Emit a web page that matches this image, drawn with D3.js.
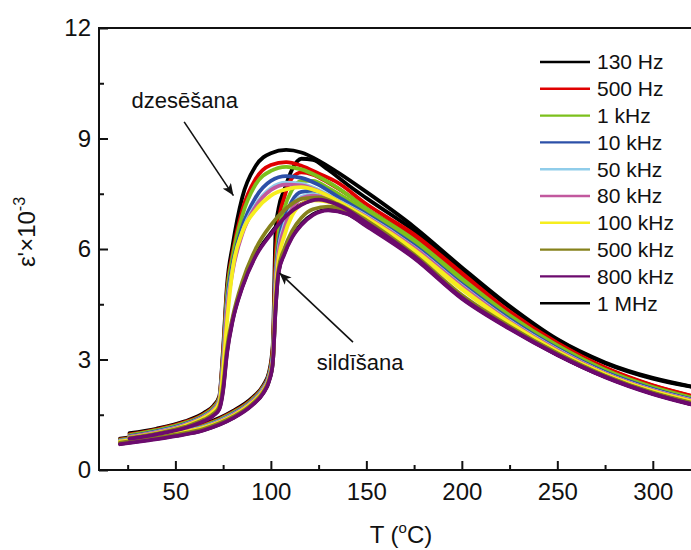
<!DOCTYPE html>
<html>
<head>
<meta charset="utf-8">
<script src="https://cdn.jsdelivr.net/npm/d3@7"></script>
<style>
  html, body { margin: 0; padding: 0; background: #ffffff; }
  svg { display: block; font-family: "Liberation Sans", Arial, sans-serif; }
</style>
</head>
<body>
<svg id="chart" width="691" height="550"></svg>
<script>
// Frequencies measured, in legend order
const freqLabels = ["130 Hz", "500 Hz", "1 kHz", "10 kHz", "50 kHz", "80 kHz", "100 kHz", "500 kHz", "800 kHz", "1 MHz"];
const freqColors = ["#000000", "#e00000", "#7cc01c", "#2c50a8", "#90cdea", "#c2589e", "#f6ee1e", "#86821c", "#6c0a6e", "#000000"];

// Temperature grids (°C) for the cooling and heating runs
const tCool = [26, 40, 55, 65, 70, 73, 75, 77, 80, 85, 92, 100, 108, 116, 125, 135, 150, 175, 200, 225, 250, 275, 300, 320];
const tHeat = [21, 35, 50, 65, 80, 90, 96, 99, 101, 102.5, 104, 107, 111, 116, 122, 130, 140, 150, 175, 200, 225, 250, 275, 300, 320];

// ε' ×10^-3 on cooling (dzesēšana)
const cool130Hz = [1.00, 1.12, 1.32, 1.55, 1.75, 2.00, 3.30, 5.00, 6.10, 7.40, 8.25, 8.60, 8.69, 8.62, 8.40, 8.08, 7.55, 6.60, 5.50, 4.45, 3.55, 2.92, 2.50, 2.27];
const cool500Hz = [0.97, 1.10, 1.30, 1.52, 1.72, 1.96, 3.20, 4.85, 5.90, 7.05, 7.90, 8.28, 8.36, 8.26, 8.05, 7.80, 7.22, 6.40, 5.35, 4.30, 3.45, 2.78, 2.30, 2.02];
const cool1kHz = [0.95, 1.08, 1.28, 1.50, 1.70, 1.94, 3.10, 4.75, 5.80, 6.90, 7.75, 8.12, 8.23, 8.16, 7.96, 7.66, 7.10, 6.25, 5.20, 4.20, 3.38, 2.72, 2.25, 1.97];
const cool10kHz = [0.92, 1.05, 1.25, 1.47, 1.66, 1.90, 3.00, 4.55, 5.60, 6.60, 7.40, 7.85, 7.98, 7.93, 7.74, 7.42, 6.95, 6.10, 5.05, 4.10, 3.30, 2.66, 2.20, 1.92];
const cool50kHz = [0.90, 1.03, 1.23, 1.45, 1.64, 1.88, 2.90, 4.40, 5.45, 6.45, 7.20, 7.65, 7.80, 7.77, 7.60, 7.32, 6.90, 6.05, 5.00, 4.05, 3.27, 2.63, 2.17, 1.90];
const cool80kHz = [0.90, 1.02, 1.22, 1.44, 1.63, 1.86, 2.85, 4.30, 5.40, 6.40, 7.15, 7.60, 7.75, 7.73, 7.57, 7.30, 6.88, 6.03, 4.98, 4.03, 3.25, 2.62, 2.16, 1.89];
const cool100kHz = [0.88, 1.00, 1.20, 1.42, 1.60, 1.82, 2.70, 4.00, 5.45, 6.45, 7.05, 7.45, 7.62, 7.68, 7.56, 7.30, 6.85, 5.98, 4.93, 4.00, 3.22, 2.60, 2.14, 1.87];
const cool500kHz = [0.87, 0.99, 1.17, 1.37, 1.53, 1.72, 2.30, 3.30, 4.15, 5.10, 6.00, 6.65, 7.10, 7.36, 7.40, 7.22, 6.78, 5.85, 4.75, 3.90, 3.17, 2.56, 2.10, 1.83];
const cool800kHz = [0.85, 0.97, 1.14, 1.33, 1.48, 1.65, 2.15, 3.15, 4.05, 4.95, 5.80, 6.40, 6.90, 7.20, 7.34, 7.20, 6.72, 5.80, 4.68, 3.85, 3.13, 2.53, 2.07, 1.79];
const cool1MHz = [0.86, 0.98, 1.15, 1.34, 1.49, 1.67, 2.20, 3.20, 4.08, 4.98, 5.83, 6.43, 6.92, 7.22, 7.35, 7.21, 6.74, 5.82, 4.70, 3.87, 3.14, 2.54, 2.08, 1.80];

// ε' ×10^-3 on heating (sildīšana)
const heat130Hz = [0.85, 0.95, 1.07, 1.25, 1.60, 1.95, 2.30, 2.65, 3.40, 6.50, 7.10, 7.60, 8.15, 8.45, 8.42, 8.15, 7.75, 7.38, 6.50, 5.44, 4.42, 3.53, 2.90, 2.48, 2.26];
const heat500Hz = [0.83, 0.93, 1.05, 1.22, 1.57, 1.92, 2.27, 2.60, 3.30, 5.80, 6.70, 7.40, 7.92, 8.08, 8.02, 7.80, 7.48, 7.10, 6.32, 5.30, 4.27, 3.43, 2.77, 2.29, 2.01];
const heat1kHz = [0.82, 0.92, 1.04, 1.20, 1.55, 1.90, 2.25, 2.58, 3.20, 5.40, 6.40, 7.10, 7.60, 7.85, 7.85, 7.66, 7.35, 7.00, 6.18, 5.16, 4.17, 3.36, 2.71, 2.24, 1.96];
const heat10kHz = [0.80, 0.90, 1.02, 1.18, 1.52, 1.87, 2.22, 2.55, 3.10, 5.20, 6.10, 6.80, 7.30, 7.55, 7.58, 7.45, 7.20, 6.88, 6.05, 5.02, 4.08, 3.29, 2.65, 2.19, 1.91];
const heat50kHz = [0.79, 0.89, 1.01, 1.17, 1.50, 1.85, 2.20, 2.52, 3.05, 5.10, 5.95, 6.65, 7.15, 7.42, 7.48, 7.38, 7.15, 6.83, 6.00, 4.97, 4.03, 3.26, 2.62, 2.16, 1.89];
const heat80kHz = [0.78, 0.88, 1.00, 1.16, 1.49, 1.84, 2.18, 2.50, 3.00, 5.00, 5.85, 6.55, 7.08, 7.38, 7.45, 7.36, 7.13, 6.81, 5.98, 4.95, 4.01, 3.24, 2.61, 2.15, 1.88];
const heat100kHz = [0.77, 0.87, 0.99, 1.15, 1.47, 1.82, 2.15, 2.47, 2.95, 4.80, 5.70, 6.35, 6.90, 7.22, 7.32, 7.28, 7.08, 6.78, 5.95, 4.90, 3.98, 3.21, 2.59, 2.13, 1.86];
const heat500kHz = [0.74, 0.84, 0.96, 1.12, 1.44, 1.78, 2.12, 2.44, 2.92, 4.55, 5.45, 6.00, 6.48, 6.85, 7.08, 7.15, 7.02, 6.70, 5.82, 4.72, 3.88, 3.16, 2.55, 2.09, 1.82];
const heat800kHz = [0.70, 0.80, 0.92, 1.08, 1.40, 1.75, 2.08, 2.40, 2.90, 4.40, 5.35, 5.85, 6.30, 6.65, 6.92, 7.05, 6.95, 6.62, 5.75, 4.65, 3.83, 3.12, 2.52, 2.06, 1.78];
const heat1MHz = [0.71, 0.81, 0.93, 1.09, 1.41, 1.76, 2.09, 2.41, 2.91, 4.42, 5.38, 5.88, 6.33, 6.68, 6.94, 7.06, 6.96, 6.64, 5.77, 4.67, 3.85, 3.13, 2.53, 2.07, 1.79];

const coolingRuns = [cool130Hz, cool500Hz, cool1kHz, cool10kHz, cool50kHz, cool80kHz, cool100kHz, cool500kHz, cool800kHz, cool1MHz];
const heatingRuns = [heat130Hz, heat500Hz, heat1kHz, heat10kHz, heat50kHz, heat80kHz, heat100kHz, heat500kHz, heat800kHz, heat1MHz];

// Axis ticks
const xMajorTicks = [50, 100, 150, 200, 250, 300];
const xMinorTicks = [25, 75, 125, 175, 225, 275];
const yMajorTicks = [0, 3, 6, 9, 12];
const yMinorTicks = [1.5, 4.5, 7.5, 10.5];

// Annotations: label, label anchor (T, ε'), arrow tail and head (T, ε')
const annotations = [
  { text: "dzesēšana", at: [27, 9.84], from: [54.6, 9.45], to: [80.4, 7.45] },
  { text: "sildīšana", at: [124, 2.72], from: [143, 3.47], to: [104.5, 5.35] }
];

const svg = d3.select("#chart");
const margin = { left: 99, right: 0, top: 28, bottom: 80 };
const W = 691, H = 550;

const x = d3.scaleLinear().domain([10, 320]).range([margin.left, W - margin.right]);
const y = d3.scaleLinear().domain([0, 12]).range([H - margin.bottom, margin.top]);

svg.append("rect").attr("width", W).attr("height", H).attr("fill", "#ffffff");

const line = d3.line()
  .x(d => x(d[0]))
  .y(d => y(d[1]))
  .curve(d3.curveMonotoneX);

const curves = svg.append("g").attr("fill", "none")
  .attr("stroke-width", 3.8).attr("stroke-linejoin", "round").attr("stroke-linecap", "round");

// 1 MHz goes underneath, then the rest in legend order (800 kHz ends on top)
const drawOrder = [9, 0, 1, 2, 3, 4, 5, 6, 7, 8];
drawOrder.forEach(i => {
  const heat = tHeat.map((t, k) => [t, heatingRuns[i][k]]);
  const cool = tCool.map((t, k) => [t, coolingRuns[i][k]]);
  curves.append("path").attr("d", line(heat)).attr("stroke", freqColors[i]);
  curves.append("path").attr("d", line(cool)).attr("stroke", freqColors[i]);
});

// Frame: left, bottom and top lines
const frame = svg.append("g").attr("stroke", "#111").attr("stroke-width", 2).attr("fill", "none");
frame.append("line").attr("x1", x(10)).attr("x2", x(10)).attr("y1", y(12)).attr("y2", y(0));
frame.append("line").attr("x1", x(10) - 1).attr("x2", W).attr("y1", y(0)).attr("y2", y(0));
frame.append("line").attr("x1", x(10) - 1).attr("x2", W).attr("y1", y(12)).attr("y2", y(12));

// Axes with inward ticks
const xAxis = d3.axisBottom(x).tickValues(xMajorTicks).tickSize(-9).tickPadding(13).tickFormat(d3.format("d"));
const xAxisMinor = d3.axisBottom(x).tickValues(xMinorTicks).tickSize(-5).tickFormat("");
const yAxis = d3.axisLeft(y).tickValues(yMajorTicks).tickSize(-9).tickPadding(8).tickFormat(d3.format("d"));
const yAxisMinor = d3.axisLeft(y).tickValues(yMinorTicks).tickSize(-5).tickFormat("");

function styleAxis(g) {
  g.select(".domain").remove();
  g.selectAll(".tick line").attr("stroke", "#111").attr("stroke-width", 2);
  g.selectAll(".tick text").attr("fill", "#111").style("font-size", "24px")
    .style("font-family", "'Liberation Sans', Arial, sans-serif");
}

svg.append("g").attr("transform", `translate(0,${y(0)})`).call(xAxis).call(styleAxis);
svg.append("g").attr("transform", `translate(0,${y(0)})`).call(xAxisMinor).call(styleAxis);
svg.append("g").attr("transform", `translate(${x(10)},0)`).call(yAxis).call(styleAxis);
svg.append("g").attr("transform", `translate(${x(10)},0)`).call(yAxisMinor).call(styleAxis);

// Axis titles
const xTitle = svg.append("text").attr("x", 401).attr("y", 543).attr("text-anchor", "middle")
  .attr("fill", "#111").style("font-size", "24px");
xTitle.append("tspan").text("T (");
xTitle.append("tspan").attr("dy", -10).style("font-size", "15px").text("o");
xTitle.append("tspan").attr("dy", 10).text("C)");

const yTitle = svg.append("text").attr("transform", "translate(35,232) rotate(-90)")
  .attr("text-anchor", "middle").attr("fill", "#111").style("font-size", "24px");
yTitle.append("tspan").text("ε'×10");
yTitle.append("tspan").attr("dy", -10).style("font-size", "16px").text("-3");

// Legend
const legend = svg.append("g").attr("transform", "translate(540,62)");
freqLabels.forEach((lab, i) => {
  const row = legend.append("g").attr("transform", `translate(0,${i * 26.8})`);
  row.append("line").attr("x1", 0).attr("x2", 50).attr("y1", 0).attr("y2", 0)
    .attr("stroke", freqColors[i]).attr("stroke-width", 2.4);
  row.append("text").attr("x", 57).attr("y", 0).attr("dy", "0.35em")
    .attr("fill", "#111").style("font-size", "21px").text(lab);
});

// Arrow markers and annotation labels
svg.append("defs").append("marker")
  .attr("id", "arrowhead").attr("viewBox", "0 0 12 10")
  .attr("refX", 12).attr("refY", 5).attr("markerWidth", 12).attr("markerHeight", 10)
  .attr("markerUnits", "userSpaceOnUse").attr("orient", "auto")
  .append("path").attr("d", "M0,0 L12,5 L0,10 L3,5 Z").attr("fill", "#111");

annotations.forEach(a => {
  svg.append("line")
    .attr("x1", x(a.from[0])).attr("y1", y(a.from[1]))
    .attr("x2", x(a.to[0])).attr("y2", y(a.to[1]))
    .attr("stroke", "#111").attr("stroke-width", 1.6)
    .attr("marker-end", "url(#arrowhead)");
  svg.append("text").attr("x", x(a.at[0])).attr("y", y(a.at[1]))
    .attr("fill", "#111").style("font-size", "22px").text(a.text);
});
</script>
</body>
</html>
